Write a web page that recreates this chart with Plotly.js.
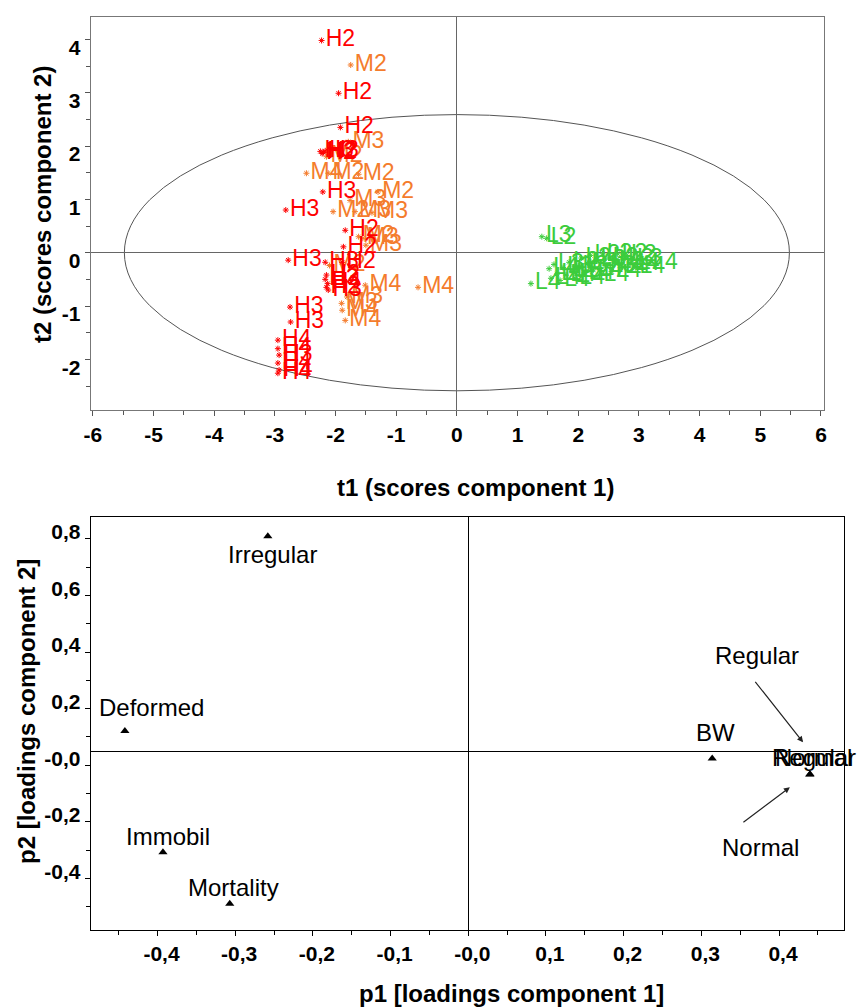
<!DOCTYPE html>
<html><head><meta charset="utf-8">
<script src="https://cdn.plot.ly/plotly-3.0.1.min.js"></script>
<style>html,body{margin:0;padding:0;background:#fff}#chart{width:857px;height:1007px}</style>
</head><body><div id="chart"></div>
<script>
// ---------- Scores plot (t1 vs t2) ----------
const H_t1 = [-2.23,-1.95,-1.92,-2.25,-2.20,-2.17,-2.22,-2.21,-2.82,-1.84,-1.87,-2.78,-2.17,-1.89,-2.15,-2.17,-2.13,-2.15,-2.12,-2.75,-2.74,-2.95,-2.95,-2.93,-2.95,-2.93,-2.95];
const H_t2 = [3.98,2.99,2.35,1.90,1.88,1.91,1.86,1.14,0.80,0.42,0.11,-0.14,-0.18,-0.18,-0.42,-0.50,-0.58,-0.65,-0.70,-1.02,-1.30,-1.64,-1.80,-1.92,-2.07,-2.20,-2.26];
const H_lab = ["H2","H2","H2","H3","H2","H3","H2","H3","H3","H2","H2","H3","H3","H2","H2","H3","H4","H2","H3","H3","H3","H4","H4","H3","H4","H4","H4"];

const M_t1 = [-1.75,-1.79,-2.15,-2.48,-2.12,-1.62,-1.30,-1.76,-2.04,-1.68,-1.40,-1.55,-1.50,-1.62,-2.10,-1.51,-0.64,-1.81,-1.90,-1.89,-1.84];
const M_t2 = [3.52,2.08,1.80,1.49,1.49,1.47,1.14,0.98,0.77,0.77,0.75,0.27,0.14,0.30,-0.24,-0.61,-0.65,-0.83,-0.95,-1.08,-1.27];
const M_lab = ["M2","M3","M2","M4","M2","M2","M2","M3","M2","M3","M3","M3","M3","M2","M2","M4","M4","M3","M3","M4","M4"];

const L_t1 = [1.52,1.55,1.60,1.65,1.70,1.75,1.80,1.85,1.90,1.95,2.00,2.05,2.10,2.15,2.20,2.25,2.30,2.35,2.40,2.45,2.50,2.55,2.60,2.65,2.70,2.75,2.80,2.85,2.90,2.94,3.15,1.40,1.48,1.22];
const L_t2 = [-0.30,-0.48,-0.22,-0.40,-0.52,-0.28,-0.42,-0.18,-0.35,-0.48,-0.25,-0.10,-0.38,-0.20,-0.05,-0.32,-0.15,-0.42,-0.02,-0.25,-0.10,-0.35,-0.18,-0.02,-0.28,-0.12,-0.05,-0.22,-0.12,-0.28,-0.20,0.30,0.27,-0.58];
const L_lab = ["L4","L4","L3","L4","L4","L3","L4","L2","L3","L4","L3","L2","L4","L3","L2","L4","L3","L4","L2","L3","L2","L4","L3","L2","L4","L3","L2","L4","L3","L4","L4","L3","L2","L4"];

// Hotelling T2 ellipse semi-axes
const ellipseA = 5.48, ellipseB = 2.59;

const t1Ticks = [-6,-5,-4,-3,-2,-1,0,1,2,3,4,5,6];
const t1TickText = ["-6","-5","-4","-3","-2","-1","0","1","2","3","4","5","6"];
const t2Ticks = [-2,-1,0,1,2,3,4];
const t2TickText = ["-2","-1","0","1","2","3","4"];

// ---------- Loadings plot (p1 vs p2) ----------
const loadVars = ["Irregular","Deformed","Immobil","Mortality","BW","Regular","Normal"];
const loadP1 = [-0.258,-0.442,-0.393,-0.307,0.314,0.440,0.4395];
const loadP2 = [0.759,0.071,-0.357,-0.539,-0.026,-0.082,-0.083];

const p1Ticks = [-0.4,-0.3,-0.2,-0.1,0,0.1,0.2,0.3,0.4];
const p1TickText = ["-0,4","-0,3","-0,2","-0,1","-0,0","0,1","0,2","0,3","0,4"];
const p2Ticks = [-0.45,-0.25,-0.05,0.15,0.35,0.55,0.75];
const p2TickText = ["-0,4","-0,2","-0,0","0,2","0,4","0,6","0,8"];

// ---------- styles ----------
const W = 857, Hh = 1007;
const red = "#ff0000", orange = "#f47c2c", green = "#3ccc3c";
const labelFont = "Liberation Sans, Arial, sans-serif";

function scoreTrace(x, y, t, c) {
  return {
    x: x, y: y, text: t, type: "scatter", mode: "markers+text",
    xaxis: "x", yaxis: "y",
    marker: {symbol: "asterisk-open", size: 5, color: c, line: {color: c, width: 1}},
    textposition: "middle right",
    textfont: {family: labelFont, size: 23, color: c},
    hoverinfo: "skip", showlegend: false
  };
}

const traces = [
  scoreTrace(M_t1, M_t2, M_lab, orange),
  scoreTrace(H_t1, H_t2, H_lab, red),
  scoreTrace(L_t1, L_t2, L_lab, green),
  {
    x: loadP1, y: loadP2, type: "scatter", mode: "markers",
    xaxis: "x2", yaxis: "y2",
    marker: {symbol: "triangle-up", size: 8, color: "#000"},
    hoverinfo: "skip", showlegend: false
  }
];

// label offsets (px) for the loading labels
const labelShift = {
  Irregular: [5, -18], Deformed: [27, 24], Immobil: [5, 16], Mortality: [4, 16],
  BW: [3, 26], Regular: [4, 17], Normal: [4, 17]
};

const ptFont = {family: labelFont, size: 24, color: "#000"};
const annotations = [];
loadVars.forEach((v, i) => {
  annotations.push({
    x: loadP1[i], y: loadP2[i], xref: "x2", yref: "y2", text: v, showarrow: false,
    xanchor: "center", yanchor: "middle",
    xshift: labelShift[v][0], yshift: labelShift[v][1], font: ptFont
  });
});
// callout texts + arrows
annotations.push({x: 0.372, y: 0.338, xref: "x2", yref: "y2", text: "Regular", showarrow: false,
  xanchor: "center", yanchor: "middle", font: ptFont});
annotations.push({x: 0.376, y: -0.340, xref: "x2", yref: "y2", text: "Normal", showarrow: false,
  xanchor: "center", yanchor: "middle", font: ptFont});
annotations.push({x: 0.431, y: 0.031, xref: "x2", yref: "y2", text: "", showarrow: true,
  ax: -49, ay: -62, arrowhead: 2, arrowsize: 1, arrowwidth: 1.2, arrowcolor: "#222"});
annotations.push({x: 0.414, y: -0.128, xref: "x2", yref: "y2", text: "", showarrow: true,
  ax: -48, ay: 36, arrowhead: 2, arrowsize: 1, arrowwidth: 1.2, arrowcolor: "#222"});

// axis titles
const titleFont = {family: labelFont, size: 24, color: "#000", weight: "bold"};
function paperTitle(px, py, txt, ang) {
  return {x: px / W, y: 1 - py / Hh, xref: "paper", yref: "paper", text: txt, textangle: ang,
    xanchor: "center", yanchor: "middle", showarrow: false, font: titleFont};
}
annotations.push(paperTitle(475, 487, "t1 (scores component 1)", 0));
annotations.push(paperTitle(42, 205, "t2 (scores component 2)", -90));
annotations.push(paperTitle(512, 993, "p1 [loadings component 1]", 0));
annotations.push(paperTitle(26, 712, "p2 [loadings component 2]", -90));

const tickFont = {family: labelFont, size: 21, color: "#000", weight: "bold"};

const layout = {
  width: W, height: Hh,
  margin: {l: 0, r: 0, t: 0, b: 0},
  paper_bgcolor: "#fff", plot_bgcolor: "#fff",
  showlegend: false,
  xaxis: {
    domain: [91 / W, 824 / W], range: [-6.03, 6.05], anchor: "y",
    tickmode: "array", tickvals: t1Ticks, ticktext: t1TickText,
    ticks: "outside", ticklen: 5, tickcolor: "#555", tickfont: tickFont,
    minor: {dtick: 0.5, tick0: 0, ticks: "outside", ticklen: 4, tickcolor: "#555"},
    showgrid: false, zeroline: true, zerolinecolor: "#666", zerolinewidth: 1,
    showline: true, mirror: true, linecolor: "#777", linewidth: 1.3
  },
  yaxis: {
    domain: [1 - 410 / Hh, 1 - 17 / Hh], range: [-2.95, 4.42], anchor: "x",
    tickmode: "array", tickvals: t2Ticks, ticktext: t2TickText, ticklabelshift: 8,
    ticks: "outside", ticklen: 5, tickcolor: "#555", tickfont: tickFont,
    minor: {dtick: 0.5, tick0: 0, ticks: "outside", ticklen: 4, tickcolor: "#555"},
    showgrid: false, zeroline: true, zerolinecolor: "#666", zerolinewidth: 1,
    showline: true, mirror: true, linecolor: "#777", linewidth: 1.3
  },
  xaxis2: {
    domain: [90.7 / W, 843.5 / W], range: [-0.486, 0.483], anchor: "y2",
    tickmode: "array", tickvals: p1Ticks, ticktext: p1TickText, ticklabelshift: 4,
    ticks: "outside", ticklen: 5, tickcolor: "#000", tickfont: tickFont,
    minor: {dtick: 0.05, tick0: 0, ticks: "outside", ticklen: 4, tickcolor: "#000"},
    showgrid: false, zeroline: true, zerolinecolor: "#000", zerolinewidth: 1,
    showline: true, mirror: true, linecolor: "#000", linewidth: 1
  },
  yaxis2: {
    domain: [1 - 930 / Hh, 1 - 517 / Hh], range: [-0.632, 0.827], anchor: "x2",
    tickmode: "array", tickvals: p2Ticks, ticktext: p2TickText, ticklabelshift: -7,
    ticks: "outside", ticklen: 5, tickcolor: "#000", tickfont: tickFont,
    minor: {dtick: 0.1, tick0: -0.05, ticks: "outside", ticklen: 4, tickcolor: "#000"},
    showgrid: false, zeroline: true, zerolinecolor: "#000", zerolinewidth: 1,
    showline: true, mirror: true, linecolor: "#000", linewidth: 1
  },
  shapes: [{
    type: "circle", xref: "x", yref: "y",
    x0: -ellipseA, x1: ellipseA, y0: -ellipseB, y1: ellipseB,
    line: {color: "#555", width: 1}, layer: "below"
  }],
  annotations: annotations
};

Plotly.newPlot("chart", traces, layout, {staticPlot: true, displayModeBar: false});
</script>
</body></html>
